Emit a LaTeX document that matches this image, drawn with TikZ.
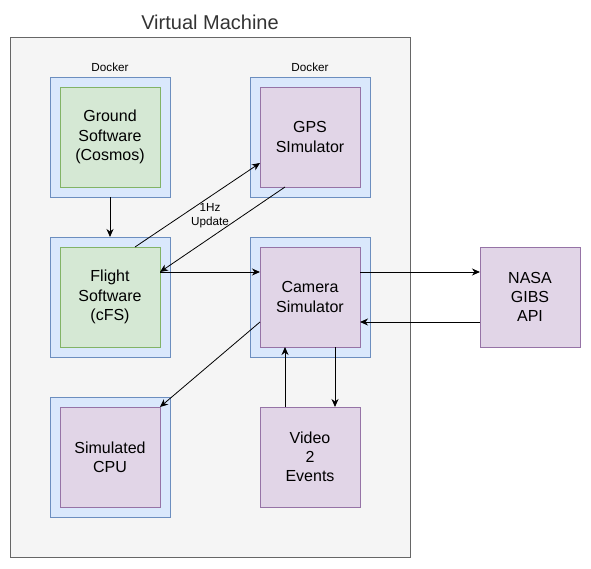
\documentclass[tikz,border=0pt]{standalone}
\usepackage{fontspec}
\setmainfont{Liberation Sans}
\usetikzlibrary{arrows.meta,calc}
\definecolor{vmfill}{HTML}{F5F5F5}
\definecolor{vmdraw}{HTML}{666666}
\definecolor{vmtext}{HTML}{333333}
\definecolor{bluefill}{HTML}{DAE8FC}
\definecolor{bluedraw}{HTML}{6C8EBF}
\definecolor{greenfill}{HTML}{D5E8D4}
\definecolor{greendraw}{HTML}{82B366}
\definecolor{purplefill}{HTML}{E1D5E7}
\definecolor{purpledraw}{HTML}{9673A6}
\tikzset{
  vmbox/.style={draw=vmdraw,fill=vmfill,line width=1pt,minimum width=400pt,minimum height=520pt,inner sep=0pt,outer sep=0pt},
  dockerbox/.style={draw=bluedraw,fill=bluefill,line width=1pt,minimum width=120pt,minimum height=120pt,inner sep=0pt,outer sep=0pt},
  greenbox/.style={draw=greendraw,fill=greenfill,line width=1pt,minimum width=100pt,minimum height=100pt,inner sep=0pt,outer sep=0pt,align=center,font=\fontsize{16}{19.2}\selectfont},
  purplebox/.style={draw=purpledraw,fill=purplefill,line width=1pt,minimum width=100pt,minimum height=100pt,inner sep=0pt,outer sep=0pt,align=center,font=\fontsize{16}{19.2}\selectfont},
  smalllabel/.style={font=\fontsize{11.7}{14}\selectfont,inner sep=0pt,align=center},
  conn/.style={line width=1pt,-{Stealth[length=8pt,width=7pt,inset=2.5pt]}},
  thinconn/.style={line width=0.8pt,-{Stealth[length=8pt,width=7pt,inset=2.5pt]}}
}
\begin{document}
\begin{tikzpicture}[x=1pt,y=-1pt]
\useasboundingbox (0,0) rectangle (591,568);
\node[vmbox] (vm) at (210,297) {};
\node[font=\fontsize{20}{24}\selectfont,text=vmtext,inner sep=0pt] (vmtitle) at (210,22) {Virtual Machine};
\node[smalllabel] (dock1) at (110,67.5) {Docker};
\node[smalllabel] (dock2) at (310,67.5) {Docker};
% docker outer boxes
\node[dockerbox] (gout) at (110,137) {};
\node[dockerbox] (gpsout) at (310,137) {};
\node[dockerbox] (fout) at (110,297) {};
\node[dockerbox] (cout) at (310,297) {};
\node[dockerbox] (cpuout) at (110,457) {};
% inner boxes
\node[greenbox] (gin) at (110,137) {Ground\\Software\\(Cosmos)};
\node[purplebox] (gpsin) at (310,137) {GPS\\SImulator};
\node[greenbox] (fin) at (110,297) {Flight\\Software\\(cFS)};
\node[purplebox] (cin) at (310,297) {Camera\\Simulator};
\node[purplebox] (cpuin) at (110,457) {Simulated\\CPU};
\node[purplebox] (video) at (310,457) {Video\\2\\Events};
\node[purplebox] (nasa) at (530,297) {NASA\\GIBS\\API};
% connectors
\draw[conn] (gout.south) -- (fout.north);
\draw[thinconn] ($(fin.north west)!0.75!(fin.north east)$) -- ($(gpsin.north west)!0.76!(gpsin.south west)$);
\draw[thinconn] ($(gpsin.south west)!0.25!(gpsin.south east)$) -- ($(fin.north east)!0.25!(fin.south east)$);
\node[smalllabel] (hz) at (210,216) {1Hz\\Update};
\draw[conn] ($(fin.north east)!0.25!(fin.south east)$) -- ($(cin.north west)!0.25!(cin.south west)$);
\draw[conn] ($(cin.north east)!0.25!(cin.south east)$) -- ($(nasa.north west)!0.25!(nasa.south west)$);
\draw[conn] ($(nasa.north west)!0.75!(nasa.south west)$) -- ($(cin.north east)!0.75!(cin.south east)$);
\draw[thinconn] ($(cin.north west)!0.75!(cin.south west)$) -- (cpuin.north east);
\draw[conn] ($(video.north west)!0.25!(video.north east)$) -- ($(cin.south west)!0.25!(cin.south east)$);
\draw[conn] ($(cin.south west)!0.75!(cin.south east)$) -- ($(video.north west)!0.75!(video.north east)$);
\end{tikzpicture}
\end{document}
